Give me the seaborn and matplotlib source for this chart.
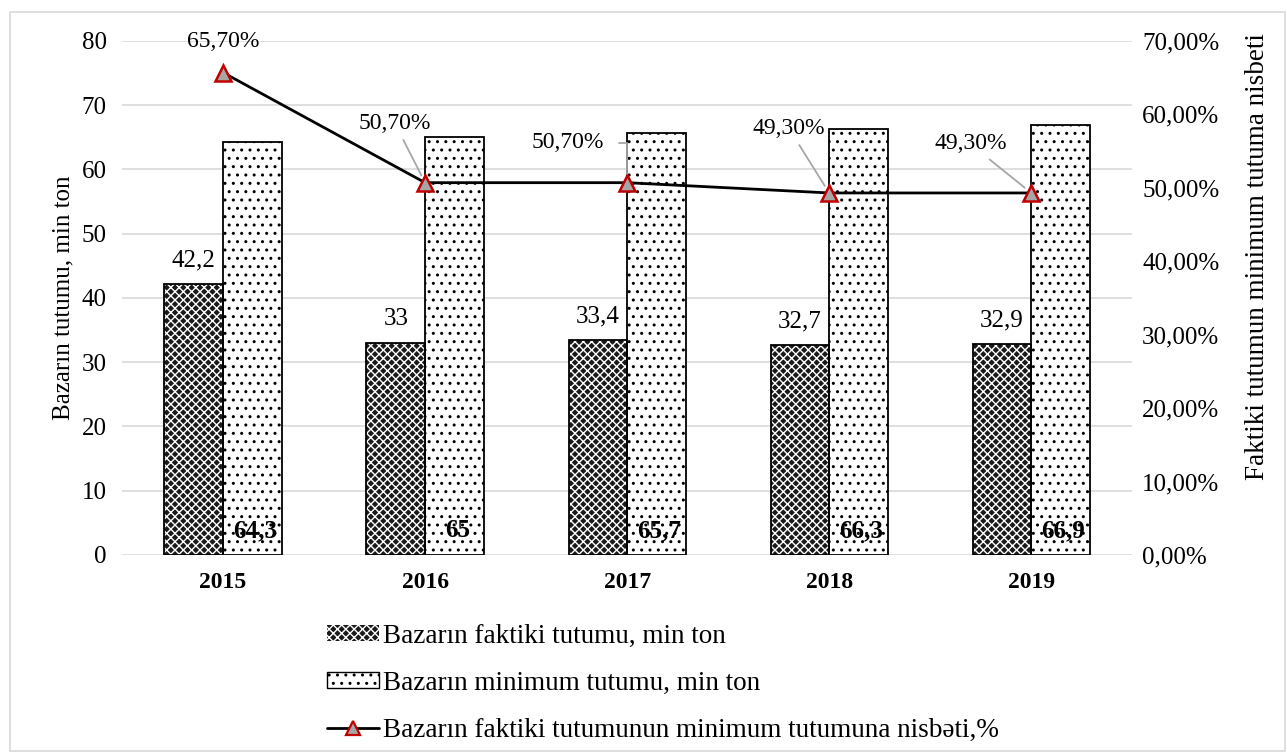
import matplotlib.pyplot as plt
import numpy as np
import pandas as pd
import seaborn as sns
from matplotlib.lines import Line2D
from matplotlib.patches import Patch, Rectangle

years = ['2015', '2016', '2017', '2018', '2019']
actual = [42.2, 33, 33.4, 32.7, 32.9]
minimum = [64.3, 65, 65.7, 66.3, 66.9]
ratio = [0.657, 0.507, 0.507, 0.493, 0.493]
ratio_labels = ['65,70%', '50,70%', '50,70%', '49,30%', '49,30%']

s_actual = 'Bazarın faktiki tutumu, min ton'
s_min = 'Bazarın minimum tutumu, min ton'
s_ratio = 'Bazarın faktiki tutumunun minimum tutumuna nisbəti,%'


def fmt(v):
    return f"{v:g}".replace('.', ',')


sns.set_style('white')
plt.rcParams['font.family'] = ['Liberation Serif', 'DejaVu Serif']
plt.rcParams['hatch.linewidth'] = 1.0
for k in ('text.color', 'axes.labelcolor', 'xtick.color', 'ytick.color'):
    plt.rcParams[k] = 'black'
FS = 18
FS_SMALL = 17
FS_LEG = 19.5

df = pd.DataFrame({
    'year': years * 2,
    'value': actual + minimum,
    'series': [s_actual] * 5 + [s_min] * 5,
})

fig = plt.figure(figsize=(12.87, 7.53), dpi=100)
ax = fig.add_axes([0.0948, 0.263, 0.785, 0.6826])

sns.barplot(data=df, x='year', y='value', hue='series', palette=['#1a1a1a', 'white'],
            width=0.58, gap=0, linewidth=0, ax=ax, legend=False, zorder=2)
# hatches: dark bars white checks, light bars black dots
for p in ax.containers[0]:
    p.set_edgecolor('white')
    p.set_hatch('xxxx')
for p in ax.containers[1]:
    p.set_edgecolor('black')
    p.set_hatch('..')
# outlines
sns.barplot(data=df, x='year', y='value', hue='series', palette=['black', 'black'],
            width=0.58, gap=0, fill=False, linewidth=1.3, ax=ax, legend=False, zorder=3)

ax.set_ylim(0, 80)
ax.set_xlim(-0.5, 4.5)
ax.set_yticks(range(0, 81, 10))
ax.grid(axis='y', color='#d9d9d9', lw=1.2, zorder=0)
ax.set_axisbelow(True)
for sp in ax.spines.values():
    sp.set_visible(False)
ax.tick_params(axis='y', length=0, labelsize=FS, pad=11)
ax.tick_params(axis='x', length=0, labelsize=FS_SMALL, pad=12)
for t in ax.get_xticklabels():
    t.set_fontweight('bold')
ax.set_xlabel('')
ax.set_ylabel('Bazarın tutumu, min ton', fontsize=FS, labelpad=5)

# bar value labels
for p, v in zip(ax.containers[0], actual):
    ax.annotate(fmt(v), (p.get_x() + p.get_width() / 2, v), xytext=(0, 9),
                textcoords='offset points', ha='center', va='bottom', fontsize=FS)
for p, v in zip(ax.containers[1], minimum):
    ax.annotate(fmt(v), (p.get_x() + p.get_width() / 2, 0), xytext=(2, 9),
                textcoords='offset points', ha='center', va='bottom', fontsize=FS,
                fontweight='bold', zorder=5)

ax2 = ax.twinx()
sns.lineplot(x=np.arange(len(years)), y=ratio, ax=ax2, color='black', lw=2,
             marker='^', markersize=11, markerfacecolor='#a6a6a6',
             markeredgecolor='#c00000', markeredgewidth=1.8, zorder=6)
ax2.set_ylim(0, 0.7)
ax2.set_yticks(np.arange(0, 0.71, 0.1))
ax2.set_yticklabels([f"{v * 100:.2f}%".replace('.', ',') for v in np.arange(0, 0.71, 0.1)])
ax2.tick_params(length=0, labelsize=FS, pad=7)
for sp in ax2.spines.values():
    sp.set_visible(False)
ax2.set_ylabel('Faktiki tutumun minimum tutuma nisbeti', fontsize=FS_LEG)
ax2.yaxis.set_label_coords(1.112, 0.58)

# ratio labels, offsets in pixels
offsets = [(0, 31), (-30, 59), (-59, 40), (-40, 64), (-61, 49)]
for i, (lab, v, (dx, dy)) in enumerate(zip(ratio_labels, ratio, offsets)):
    if i == 0:
        arrow = None
    elif i == 2:
        arrow = dict(arrowstyle='-', color='#a6a6a6', lw=1.3, shrinkA=8, shrinkB=6,
                     connectionstyle='angle,angleA=0,angleB=90,rad=0', relpos=(1, 0.5))
    else:
        arrow = dict(arrowstyle='-', color='#a6a6a6', lw=1.3, shrinkA=2, shrinkB=6)
    ax2.annotate(lab, (i, v), xytext=(dx * 0.72, dy * 0.72), textcoords='offset points',
                 ha='center', va='center', fontsize=FS_SMALL, arrowprops=arrow, zorder=7)

# legend
h1 = Patch(facecolor='#1a1a1a', edgecolor='white', hatch='xxxx', lw=0)
h2 = Patch(facecolor='white', edgecolor='black', hatch='..', lw=1)
h3 = Line2D([], [], color='black', lw=2, marker='^', markersize=10,
            markerfacecolor='#a6a6a6', markeredgecolor='#c00000', markeredgewidth=1.6)
fig.legend([h1, h2, h3], [s_actual, s_min, s_ratio], loc='upper left',
           bbox_to_anchor=(0.254, 0.172), frameon=False, fontsize=FS_LEG,
           handlelength=1.92, handleheight=0.55, handletextpad=0.15, labelspacing=0.82,
           borderaxespad=0, borderpad=0)

fig.patches.append(Rectangle((10 / 1287, 2 / 753), 1275 / 1287, 739 / 753, transform=fig.transFigure,
                             fill=False, edgecolor='#d9d9d9', lw=1.2))

fig.savefig('out.png', dpi=100)
